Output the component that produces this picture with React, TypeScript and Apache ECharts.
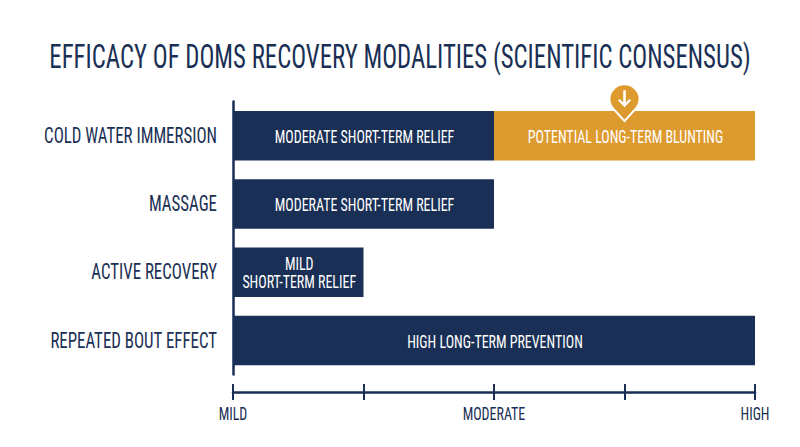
import React, { useEffect, useRef } from "react";
import * as echarts from "echarts";

const titleText = "EFFICACY OF DOMS RECOVERY MODALITIES (SCIENTIFIC CONSENSUS)";
const categories = ["COLD WATER IMMERSION", "MASSAGE", "ACTIVE RECOVERY", "REPEATED BOUT EFFECT"];
const reliefValues = [2, 2, 1, 4];
const reliefLabels = ["MODERATE SHORT-TERM RELIEF", "MODERATE SHORT-TERM RELIEF", "MILD\nSHORT-TERM RELIEF", "HIGH LONG-TERM PREVENTION"];
const bluntingValues = [2, 0, 0, 0];
const bluntingLabels = ["POTENTIAL LONG-TERM BLUNTING", "", "", ""];
const tickValues = [0, 1, 2, 3, 4];
const tickLabels = ["MILD", "", "MODERATE", "", "HIGH"];
const pinPosition = 3;

const NAVY = "#1a2f55";
const GOLD = "#dd9a2f";
const FONT = '"Liberation Sans Narrow", "Roboto Condensed", "Liberation Sans", sans-serif';
const PIN = "path://M0 15A15 15 0 0 1 30 15C30 21 27 24 24 27L15 37L6 27C3 24 0 21 0 15Z";
const ARROW = "path://M5.5 0H8V12L11.5 8.5L13 10L6.75 16.5L0.5 10L2 8.5L5.5 12Z";

const squeezedText = (
  x: number,
  y: number,
  text: string,
  fontSize: number,
  scaleX: number,
  fill: string,
  align: string,
  lineHeight?: number,
) => ({
  type: "text",
  x,
  y,
  scaleX,
  style: { text, x: 0, y: 0, fill, align, verticalAlign: "middle", fontFamily: FONT, fontSize, lineHeight },
});

// Bar captions, category names and tick names: placed through the chart's scales.
const captionSeries = (values: number[], starts: number[], labels: string[]) => ({
  type: "custom",
  silent: true,
  z: 5,
  data: values.map((v, i) => [starts[i] + v / 2, i]),
  renderItem: (params: any, api: any) => {
    const p = api.coord([api.value(0), api.value(1)]);
    return squeezedText(p[0] + 1, p[1] + 1, labels[params.dataIndex], 18.5, 0.755, "#ffffff", "center", 18);
  },
});

export default function App() {
  const ref = useRef<HTMLDivElement>(null);
  useEffect(() => {
    const chart = echarts.init(ref.current!, null, { renderer: "svg" });
    const baseAxis = {
      type: "value" as const,
      min: 0,
      max: 4,
      interval: 1,
      position: "bottom" as const,
      offset: 17.5,
      splitLine: { show: false },
      axisLabel: { show: false },
    };
    chart.setOption({
      animation: false,
      backgroundColor: "#ffffff",
      graphic: [squeezedText(400, 57, titleText, 33, 0.752, NAVY, "center")],
      grid: { left: 233, right: 45, top: 101.5, bottom: 72.5, containLabel: false },
      xAxis: [
        {
          ...baseAxis,
          axisLine: { show: true, lineStyle: { color: NAVY, width: 2.5 } },
          axisTick: { show: true, length: 8, lineStyle: { color: NAVY, width: 2 } },
        },
        {
          ...baseAxis,
          axisLine: { show: false },
          axisTick: { show: true, inside: true, length: 8, lineStyle: { color: NAVY, width: 2 } },
        },
      ],
      yAxis: {
        type: "category",
        inverse: true,
        data: categories,
        axisLine: { show: true, lineStyle: { color: NAVY, width: 2.5 } },
        axisTick: { show: false },
        axisLabel: { show: false },
      },
      series: [
        {
          type: "bar",
          stack: "total",
          barWidth: 49.5,
          itemStyle: { color: NAVY },
          data: reliefValues,
        },
        {
          type: "bar",
          stack: "total",
          barWidth: 49.5,
          itemStyle: { color: GOLD },
          data: bluntingValues,
          markPoint: {
            silent: true,
            label: { show: false },
            data: [
              {
                coord: [pinPosition, categories[0]],
                symbol: PIN,
                symbolSize: [30, 37],
                symbolOffset: [0, -33],
                itemStyle: { color: GOLD, borderColor: "#ffffff", borderWidth: 2 },
              },
              {
                coord: [pinPosition, categories[0]],
                symbol: ARROW,
                symbolSize: [13, 17],
                symbolOffset: [0, -37],
                itemStyle: { color: "#ffffff" },
              },
            ],
          },
        },
        captionSeries(reliefValues, [0, 0, 0, 0], reliefLabels),
        captionSeries(bluntingValues.slice(0, 1), reliefValues, bluntingLabels),
        {
          type: "custom",
          silent: true,
          data: categories.map((_c, i) => [0, i]),
          renderItem: (params: any, api: any) => {
            const p = api.coord([api.value(0), api.value(1)]);
            return squeezedText(p[0] - 16, p[1], categories[params.dataIndex], 22.5, 0.75, NAVY, "right");
          },
        },
        {
          type: "custom",
          silent: true,
          data: tickValues.map((v) => [v, 3]),
          renderItem: (params: any, api: any) => {
            const p = api.coord([api.value(0), api.value(1)]);
            return squeezedText(p[0], p[1] + 73, tickLabels[params.dataIndex], 18.5, 0.755, NAVY, "center");
          },
        },
      ],
    });
    return () => chart.dispose();
  }, []);
  return <div ref={ref} style={{ position: "fixed", left: 0, top: 0, width: 800, height: 447 }} />;
}
